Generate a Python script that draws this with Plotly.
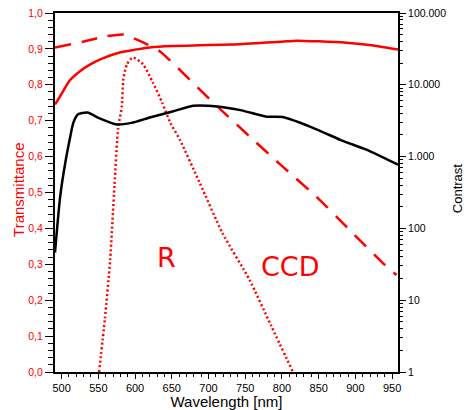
import plotly.graph_objects as go

# Transmittance (left axis)
wl_t = [491, 500, 511, 525, 539, 555, 579, 600, 620, 650, 688, 730, 774, 800, 820, 850, 888, 910, 933, 958]
trans = [0.745, 0.775, 0.812, 0.838, 0.857, 0.873, 0.89, 0.898, 0.904, 0.908, 0.91, 0.912, 0.917, 0.92, 0.923, 0.921, 0.917, 0.913, 0.907, 0.898]

# CCD response (left axis, dashed)
wl_ccd = [491, 529, 560, 585, 611, 634, 702, 756, 801, 847, 892, 937, 956]
ccd = [0.904, 0.92, 0.935, 0.94, 0.918, 0.893, 0.759, 0.656, 0.572, 0.488, 0.396, 0.304, 0.27]

# R filter (left axis, dotted)
wl_r = [551, 559, 566, 572, 577, 582, 584, 589, 597, 611, 624, 637, 648, 661, 688, 719, 756, 785, 815]
r_filt = [0.0, 0.15, 0.31, 0.52, 0.68, 0.74, 0.815, 0.857, 0.876, 0.857, 0.807, 0.75, 0.694, 0.647, 0.527, 0.387, 0.256, 0.13, 0.0]

# Contrast (right log axis)
wl_c = [491, 498, 505, 511, 516, 522, 535, 552, 575, 595, 620, 651, 679, 711, 745, 779, 801, 847, 880, 915, 958]
contrast = [46, 275, 820, 1730, 2970, 3870, 4100, 3400, 2800, 2950, 3500, 4250, 5100, 5000, 4400, 3600, 3550, 2400, 1700, 1250, 770]

x_ticks = [500, 550, 600, 650, 700, 750, 800, 850, 900, 950]
y_ticks = [0.0, 0.1, 0.2, 0.3, 0.4, 0.5, 0.6, 0.7, 0.8, 0.9, 1.0]
c_ticks = [1, 10, 100, 1000, 10000, 100000]
c_labels = ["1", "10", "100", "1.000", "10.000", "100.000"]

RED = "#ff0000"
FONT = "Liberation Sans, Arial, sans-serif"
fig = go.Figure()
fig.add_trace(go.Scatter(x=wl_c, y=contrast, yaxis="y2", mode="lines",
                         line=dict(color="black", width=2.5, shape="spline", smoothing=0.6)))
fig.add_trace(go.Scatter(x=wl_t, y=trans, mode="lines",
                         line=dict(color=RED, width=2.5, shape="spline", smoothing=0.6)))
fig.add_trace(go.Scatter(x=wl_ccd, y=ccd, mode="lines",
                         line=dict(color=RED, width=2.5, dash="16px,11px", shape="spline", smoothing=0.5)))
fig.add_trace(go.Scatter(x=wl_r, y=r_filt, mode="lines",
                         line=dict(color=RED, width=2.5, dash="2px,2.5px", shape="spline", smoothing=0.6)))

minor_c = [m * 10 ** d for d in range(5) for m in range(2, 10)]

fig.update_layout(
    width=464, height=410,
    margin=dict(l=55, r=66, t=13, b=38, autoexpand=False),
    plot_bgcolor="white", paper_bgcolor="white",
    showlegend=False,
    separators=",.",
    font=dict(family=FONT, size=11, color="black"),
    xaxis=dict(range=[491, 958], tickvals=x_ticks, ticks="outside", ticklen=5, tickcolor="black",
               showline=True, linecolor="black", linewidth=2, mirror=True, showgrid=False,
               zeroline=False, automargin=False, ticklabeloverflow="allow",
               minor=dict(dtick=10, tick0=500, ticks="outside", ticklen=3, tickcolor="black"),
               title=dict(text="Wavelength [nm]", font=dict(size=15), standoff=3)),
    yaxis=dict(range=[0, 1], tickvals=y_ticks, tickformat=".1f", ticks="outside", ticklen=8,
               tickcolor="black", showline=True, linecolor="black", linewidth=2, mirror=True,
               showgrid=False, zeroline=False, automargin=False, ticklabeloverflow="allow",
               tickfont=dict(color=RED, size=10.5),
               minor=dict(dtick=0.02, ticks="outside", ticklen=5, tickcolor="black")),
    yaxis2=dict(type="log", range=[0, 5], overlaying="y", side="right",
                tickvals=c_ticks, ticktext=c_labels, ticks="outside", ticklen=7,
                tickcolor="black", showline=False, showgrid=False, zeroline=False,
                automargin=False, ticklabeloverflow="allow", tickfont=dict(size=10.5),
                minor=dict(tickvals=minor_c, ticks="outside", ticklen=4, tickcolor="black")),
)

fig.add_annotation(x=-0.105, y=0.507, xref="paper", yref="paper", text="Transmittance",
                   textangle=-90, showarrow=False, xanchor="center", yanchor="middle",
                   font=dict(color=RED, size=15, family=FONT))
fig.add_annotation(x=1.172, y=0.512, xref="paper", yref="paper", text="Contrast",
                   textangle=-90, showarrow=False, xanchor="center", yanchor="middle",
                   font=dict(color="black", size=13, family=FONT))
fig.add_annotation(x=643, y=0.318, text="R", showarrow=False, xref="x", yref="y",
                   font=dict(color=RED, size=27, family="DejaVu Sans"))
fig.add_annotation(x=811, y=0.293, text="CCD", showarrow=False, xref="x", yref="y",
                   font=dict(color=RED, size=27, family="DejaVu Sans"))

# remove the default 8px page margin so the 464x410 figure fills the window exactly
fig.write_html("out.html", config={"displayModeBar": False},
               post_script="document.body.style.margin='0';")
